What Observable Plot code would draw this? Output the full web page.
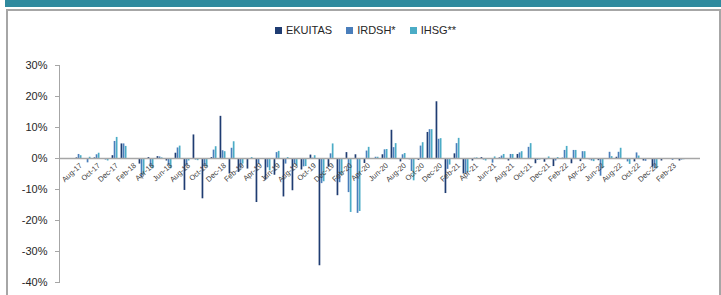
<!DOCTYPE html>
<html>
<head>
<meta charset="utf-8">
<script src="https://cdn.jsdelivr.net/npm/d3@7"></script>
<script src="https://cdn.jsdelivr.net/npm/@observablehq/plot@0.6"></script>
<style>
  body { margin: 0; background: #fff; font-family: "Liberation Sans", Arial, sans-serif; }
  #wrap { position: relative; width: 721px; height: 295px; overflow: hidden; background: #fff; }
  #topbar { position: absolute; left: 5px; top: 0; width: 716px; height: 7px; background: #2f8a9e; }
  #box { position: absolute; left: 6px; top: 9px; width: 711px; height: 320px; border: 2px solid #a6a6a6; border-bottom: none; }
  #legend { position: absolute; left: 10px; top: 24px; width: 711px; display: flex; justify-content: center; align-items: center; font-size: 11px; color: #262626; }
  #legend .item { display: flex; align-items: center; margin: 0 7px; }
  #legend .sw { width: 7px; height: 7px; margin-right: 4px; }
  #chart { position: absolute; left: 0; top: 50px; }
</style>
</head>
<body>
<div id="wrap">
  <div id="topbar"></div>
  <div id="box"></div>
  <div id="legend"></div>
  <div id="chart"></div>
</div>
<script>
const months = [
  "Aug-17","Sep-17","Oct-17","Nov-17","Dec-17",
  "Jan-18","Feb-18","Mar-18","Apr-18","May-18","Jun-18","Jul-18","Aug-18","Sep-18","Oct-18","Nov-18","Dec-18",
  "Jan-19","Feb-19","Mar-19","Apr-19","May-19","Jun-19","Jul-19","Aug-19","Sep-19","Oct-19","Nov-19","Dec-19",
  "Jan-20","Feb-20","Mar-20","Apr-20","May-20","Jun-20","Jul-20","Aug-20","Sep-20","Oct-20","Nov-20","Dec-20",
  "Jan-21","Feb-21","Mar-21","Apr-21","May-21","Jun-21","Jul-21","Aug-21","Sep-21","Oct-21","Nov-21","Dec-21",
  "Jan-22","Feb-22","Mar-22","Apr-22","May-22","Jun-22","Jul-22","Aug-22","Sep-22","Oct-22","Nov-22","Dec-22",
  "Jan-23","Feb-23","Mar-23"
];
const seriesNames = ["EKUITAS", "IRDSH*", "IHSG**"];
const ekuitas = [
  0.2,-0.2,0.2,-0.2,0.9,
  4.7,0.0,-1.8,0.3,0.6,-0.8,1.7,-10.3,7.6,-13.0,0.3,13.6,
  -5.0,-4.5,-3.4,-14.2,-7.0,-5.4,-12.4,-10.4,-3.7,1.1,-34.6,-2.8,
  -12.0,1.9,1.2,-1.6,0.0,1.2,9.1,-1.1,-0.4,-0.6,8.4,18.3,
  -11.3,1.5,-5.0,-0.8,0.3,0.0,0.2,-0.8,1.3,-0.2,-1.7,-1.2,
  -2.6,0.1,-1.7,-1.0,-0.4,-0.7,0.0,0.4,-0.2,-1.1,-0.8,-2.8,
  -0.8,-0.1,-0.8
];
const irdsh = [
  1.3,-1.4,1.2,-0.5,5.5,
  4.7,0.0,-6.2,-2.8,0.5,-2.3,3.4,-2.3,-0.5,-2.6,2.7,2.5,
  3.3,-3.4,-0.3,-1.8,-3.0,1.9,-1.8,-1.8,-2.7,0.1,-8.1,1.5,
  -7.8,-11.0,-17.7,2.4,0.4,2.8,3.5,1.2,-4.2,4.0,9.3,6.2,
  -3.5,4.8,-5.0,0.1,-0.5,-1.5,0.8,1.3,1.8,3.6,-0.6,-0.4,
  -0.8,2.6,2.6,2.2,-0.8,-5.7,2.0,2.0,-1.1,1.8,-0.9,-3.3,
  -0.1,-0.6,-0.5
];
const ihsg = [
  0.9,0.4,1.7,-0.8,6.8,
  3.9,-0.3,-5.3,-3.3,0.2,-3.3,4.0,-0.8,-0.7,-2.8,3.8,2.2,
  5.4,-1.8,0.3,-0.1,-4.0,2.3,0.3,-2.4,-2.6,0.9,-7.5,4.7,
  -5.5,-17.4,-17.1,3.6,0.4,2.9,4.8,1.6,-7.2,5.1,9.3,6.4,
  -2.1,6.5,-4.5,0.2,-0.8,0.5,1.3,1.3,2.2,4.8,-0.5,0.5,
  0.3,3.9,2.6,2.2,-1.0,-3.2,0.6,3.3,-1.9,0.8,-0.3,-3.3,
  -0.2,-0.3,-0.4
];
const yTicks = [-40, -30, -20, -10, 0, 10, 20, 30];
const xLabels = months.filter((m, i) => i % 2 === 0);
const colors = ["#1f3c72", "#4a7ebb", "#4bacc6"];

const rows = months.map((m, i) => ({month: m, e: ekuitas[i], r: irdsh[i], h: ihsg[i]}));

// legend
const legend = document.getElementById("legend");
seriesNames.forEach((name, i) => {
  const it = document.createElement("div");
  it.className = "item";
  const sw = document.createElement("span");
  sw.className = "sw";
  sw.style.background = colors[i];
  const tx = document.createElement("span");
  tx.textContent = name;
  it.appendChild(sw); it.appendChild(tx);
  legend.appendChild(it);
});

const chart = Plot.plot({
  width: 721,
  height: 245,
  marginLeft: 59,
  marginRight: 21,
  marginTop: 15,
  marginBottom: 13,
  style: {fontFamily: "'Liberation Sans', Arial, sans-serif", background: "transparent"},
  x: {type: "band", domain: months, padding: 0, axis: null},
  y: {domain: [-40, 30], axis: null},
  marks: [
    Plot.barY(rows, {x: "month", y: "e", fill: colors[0], insetLeft: 1.6, insetRight: 5.7}),
    Plot.barY(rows, {x: "month", y: "r", fill: colors[1], insetLeft: 3.7, insetRight: 3.6}),
    Plot.barY(rows, {x: "month", y: "h", fill: colors[2], insetLeft: 5.8, insetRight: 1.5}),
    Plot.ruleY([0], {stroke: "#a6a6a6", strokeWidth: 1.3}),
    Plot.frame({anchor: "left", stroke: "#a6a6a6"}),
    Plot.axisY({ticks: yTicks, tickFormat: d => d + "%", tickSize: 4, tickPadding: 8, fontSize: 11, stroke: "#a6a6a6", fill: "#262626", label: null}),
    Plot.text(xLabels, {x: d => d, y: () => 0, text: d => d, rotate: -42, textAnchor: "end", dx: 2, dy: 6, fontSize: 7.5, fill: "#404040"})
  ]
});
document.getElementById("chart").appendChild(chart);
</script>
</body>
</html>
